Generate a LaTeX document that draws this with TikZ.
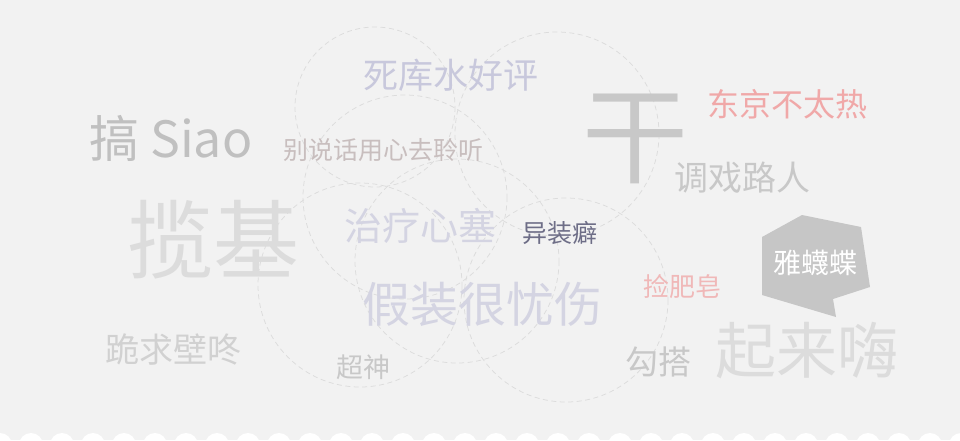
\documentclass[tikz,border=0pt]{standalone}
\usepackage{fontspec}
\newfontfamily\cjk{Noto Sans CJK SC}
\definecolor{bgray}{HTML}{F2F2F2}
\definecolor{ring}{HTML}{DCDCDC}
\definecolor{lav}{HTML}{C8C8DC}
\definecolor{lavlight}{HTML}{D4D4E2}
\definecolor{pinkred}{HTML}{F0A8A8}
\definecolor{pinklight}{HTML}{F0B8B8}
\definecolor{slate}{HTML}{6E6E87}
\definecolor{midgray}{HTML}{C8C8C8}
\definecolor{palegray}{HTML}{DCDCDC}
\definecolor{rosegray}{HTML}{C8BEBE}
\definecolor{bubble}{HTML}{C6C6C6}
\tikzset{
  word/.style={inner sep=0pt, font=\cjk\fontsize{#1}{#1}\selectfont},
  ring/.style={draw=ring, line width=0.75pt, dash pattern=on 5pt off 3.5pt}
}
\begin{document}
\begin{tikzpicture}[x=1pt,y=-1pt]
\useasboundingbox (0,0) rectangle (960,440);
\fill[bgray] (0,0) rectangle (960,440);
\foreach \cx/\cy/\r in {375/107/80, 557/134/102, 405/197/102, 360/285/102, 457/261/102, 566/300/102}
  \draw[ring] (\cx,\cy) circle[radius=\r];
\begin{scope}
\clip (0,0) rectangle (960,440);
\foreach \i in {0,...,31}
  \fill[white] (31*\i,445) circle[radius=12];
\end{scope}
\node[word=35, text=lav] (kuw) at (451,75.5) {死库水好评};
\node[word=106, text=midgray] (gan) at (635.5,138.5) {干};
\node[word=32, text=pinkred] (tokyo) at (787.5,104) {东京不太热};
\node[word=50, text=midgray!96!black, anchor=west] (siao) at (89,138) {搞 Siao};
\node[word=25, text=rosegray] (tingshuo) at (383,150) {别说话用心去聆听};
\node[word=86, text=palegray] (lanji) at (213,240) {揽基};
\node[word=34, text=midgray] (tiaoxi) at (742.5,177.5) {调戏路人};
\node[word=38, text=lavlight] (xinsai) at (420,225.5) {治疗心塞};
\node[word=25, text=slate] (yizhuang) at (559.5,232.5) {异装癖};
\node[word=48, text=lavlight] (youshang) at (482.5,304.5) {假装很忧伤};
\node[word=26, text=pinklight] (feizao) at (682.5,286.5) {捡肥皂};
\fill[bubble] (762,237) -- (802,215) -- (861,227) -- (870,287) -- (833,299) -- (836,317) -- (762,295) -- cycle;
\node[word=28, text=white] (yamie) at (815,263) {雅蠛蝶};
\node[word=61, text=palegray] (hai) at (807,351) {起来嗨};
\node[word=33, text=midgray] (goudao) at (658,361.5) {勾搭};
\node[word=34, text=palegray!95!black] (bidong) at (173.5,349) {跪求壁咚};
\node[word=27, text=midgray] (chaoshen) at (363.5,367.5) {超神};
\end{tikzpicture}
\end{document}
